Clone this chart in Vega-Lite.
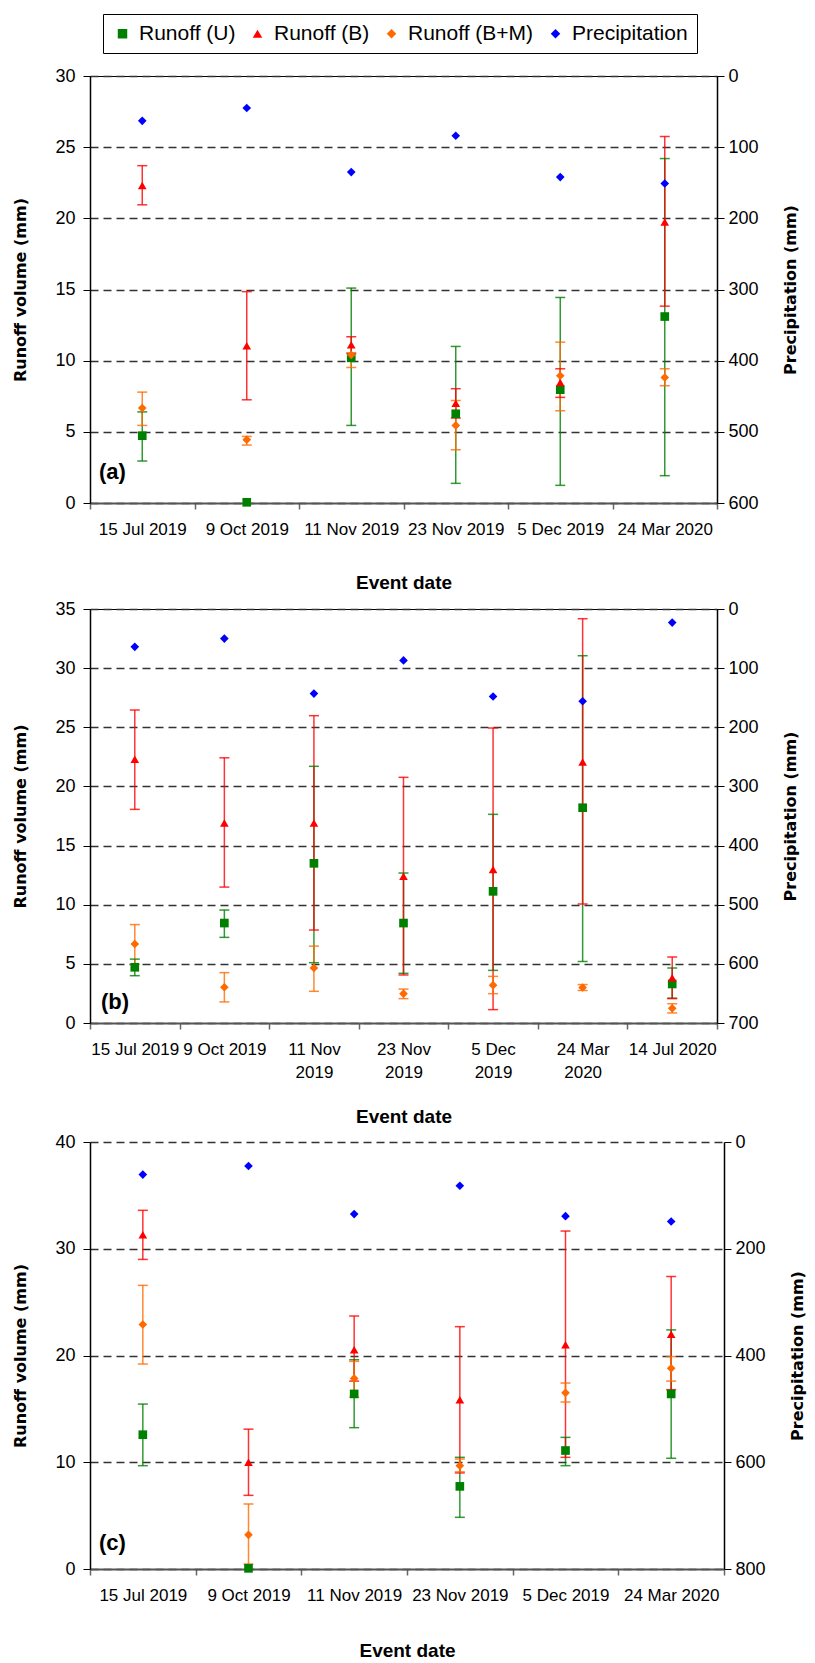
{
  "$schema": "https://vega.github.io/schema/vega-lite/v6.json",
  "background": "white",
  "padding": {"left": 12, "top": 13, "right": 4, "bottom": 2},
  "spacing": 6,
  "datasets": {
    "runoff": [
      {"p":"a","date":"15 Jul 2019","series":"Runoff (U)","v":4.73,"lo":2.95,"hi":6.4},
      {"p":"a","date":"9 Oct 2019","series":"Runoff (U)","v":0.05,"lo":null,"hi":null},
      {"p":"a","date":"11 Nov 2019","series":"Runoff (U)","v":10.2,"lo":5.45,"hi":15.1},
      {"p":"a","date":"23 Nov 2019","series":"Runoff (U)","v":6.27,"lo":1.38,"hi":11.0},
      {"p":"a","date":"5 Dec 2019","series":"Runoff (U)","v":7.96,"lo":1.24,"hi":14.44},
      {"p":"a","date":"24 Mar 2020","series":"Runoff (U)","v":13.1,"lo":1.92,"hi":24.2},
      {"p":"a","date":"15 Jul 2019","series":"Runoff (B)","v":22.3,"lo":20.95,"hi":23.7},
      {"p":"a","date":"9 Oct 2019","series":"Runoff (B)","v":11.05,"lo":7.25,"hi":14.85},
      {"p":"a","date":"11 Nov 2019","series":"Runoff (B)","v":11.12,"lo":10.53,"hi":11.68},
      {"p":"a","date":"23 Nov 2019","series":"Runoff (B)","v":7.0,"lo":5.97,"hi":8.03},
      {"p":"a","date":"5 Dec 2019","series":"Runoff (B)","v":8.47,"lo":7.42,"hi":9.43},
      {"p":"a","date":"24 Mar 2020","series":"Runoff (B)","v":19.75,"lo":13.83,"hi":25.75},
      {"p":"a","date":"15 Jul 2019","series":"Runoff (B+M)","v":6.67,"lo":5.45,"hi":7.79},
      {"p":"a","date":"9 Oct 2019","series":"Runoff (B+M)","v":4.45,"lo":4.07,"hi":4.68},
      {"p":"a","date":"11 Nov 2019","series":"Runoff (B+M)","v":10.41,"lo":9.52,"hi":10.5},
      {"p":"a","date":"23 Nov 2019","series":"Runoff (B+M)","v":5.45,"lo":3.74,"hi":7.2},
      {"p":"a","date":"5 Dec 2019","series":"Runoff (B+M)","v":8.94,"lo":6.48,"hi":11.3},
      {"p":"a","date":"24 Mar 2020","series":"Runoff (B+M)","v":8.82,"lo":8.24,"hi":9.43},

      {"p":"b","date":"15 Jul 2019","series":"Runoff (U)","v":4.71,"lo":4.0,"hi":5.4},
      {"p":"b","date":"9 Oct 2019","series":"Runoff (U)","v":8.45,"lo":7.24,"hi":9.55},
      {"p":"b","date":"11 Nov 2019","series":"Runoff (U)","v":13.5,"lo":5.1,"hi":21.7},
      {"p":"b","date":"23 Nov 2019","series":"Runoff (U)","v":8.45,"lo":4.2,"hi":12.68},
      {"p":"b","date":"5 Dec 2019","series":"Runoff (U)","v":11.13,"lo":4.45,"hi":17.64},
      {"p":"b","date":"24 Mar 2020","series":"Runoff (U)","v":18.2,"lo":5.2,"hi":31.05},
      {"p":"b","date":"14 Jul 2020","series":"Runoff (U)","v":3.3,"lo":2.1,"hi":4.65},
      {"p":"b","date":"15 Jul 2019","series":"Runoff (B)","v":22.3,"lo":18.06,"hi":26.46},
      {"p":"b","date":"9 Oct 2019","series":"Runoff (B)","v":16.9,"lo":11.49,"hi":22.42},
      {"p":"b","date":"11 Nov 2019","series":"Runoff (B)","v":16.9,"lo":7.86,"hi":25.98},
      {"p":"b","date":"23 Nov 2019","series":"Runoff (B)","v":12.4,"lo":4.06,"hi":20.77},
      {"p":"b","date":"5 Dec 2019","series":"Runoff (B)","v":12.97,"lo":1.13,"hi":24.94},
      {"p":"b","date":"24 Mar 2020","series":"Runoff (B)","v":22.07,"lo":10.06,"hi":34.18},
      {"p":"b","date":"14 Jul 2020","series":"Runoff (B)","v":3.83,"lo":2.06,"hi":5.58},
      {"p":"b","date":"15 Jul 2019","series":"Runoff (B+M)","v":6.68,"lo":4.96,"hi":8.32},
      {"p":"b","date":"9 Oct 2019","series":"Runoff (B+M)","v":3.02,"lo":1.78,"hi":4.26},
      {"p":"b","date":"11 Nov 2019","series":"Runoff (B+M)","v":4.65,"lo":2.68,"hi":6.5},
      {"p":"b","date":"23 Nov 2019","series":"Runoff (B+M)","v":2.48,"lo":2.06,"hi":2.87},
      {"p":"b","date":"5 Dec 2019","series":"Runoff (B+M)","v":3.2,"lo":2.48,"hi":3.94},
      {"p":"b","date":"24 Mar 2020","series":"Runoff (B+M)","v":3.0,"lo":2.75,"hi":3.25},
      {"p":"b","date":"14 Jul 2020","series":"Runoff (B+M)","v":1.24,"lo":0.85,"hi":1.63},

      {"p":"c","date":"15 Jul 2019","series":"Runoff (U)","v":12.58,"lo":9.68,"hi":15.45},
      {"p":"c","date":"9 Oct 2019","series":"Runoff (U)","v":0.06,"lo":null,"hi":null},
      {"p":"c","date":"11 Nov 2019","series":"Runoff (U)","v":16.4,"lo":13.24,"hi":19.6},
      {"p":"c","date":"23 Nov 2019","series":"Runoff (U)","v":7.74,"lo":4.84,"hi":10.46},
      {"p":"c","date":"5 Dec 2019","series":"Runoff (U)","v":11.1,"lo":9.68,"hi":12.33},
      {"p":"c","date":"24 Mar 2020","series":"Runoff (U)","v":16.4,"lo":10.37,"hi":22.4},
      {"p":"c","date":"15 Jul 2019","series":"Runoff (B)","v":31.3,"lo":29.0,"hi":33.6},
      {"p":"c","date":"9 Oct 2019","series":"Runoff (B)","v":9.99,"lo":6.9,"hi":13.1},
      {"p":"c","date":"11 Nov 2019","series":"Runoff (B)","v":20.55,"lo":17.6,"hi":23.7},
      {"p":"c","date":"23 Nov 2019","series":"Runoff (B)","v":15.86,"lo":9.0,"hi":22.7},
      {"p":"c","date":"5 Dec 2019","series":"Runoff (B)","v":21.0,"lo":10.46,"hi":31.66},
      {"p":"c","date":"24 Mar 2020","series":"Runoff (B)","v":22.0,"lo":16.8,"hi":27.4},
      {"p":"c","date":"15 Jul 2019","series":"Runoff (B+M)","v":22.9,"lo":19.2,"hi":26.57},
      {"p":"c","date":"9 Oct 2019","series":"Runoff (B+M)","v":3.2,"lo":0.47,"hi":6.09},
      {"p":"c","date":"11 Nov 2019","series":"Runoff (B+M)","v":17.85,"lo":16.1,"hi":19.45},
      {"p":"c","date":"23 Nov 2019","series":"Runoff (B+M)","v":9.68,"lo":9.1,"hi":10.3},
      {"p":"c","date":"5 Dec 2019","series":"Runoff (B+M)","v":16.5,"lo":15.64,"hi":17.42},
      {"p":"c","date":"24 Mar 2020","series":"Runoff (B+M)","v":18.8,"lo":17.6,"hi":19.9}
    ],
    "precip": [
      {"p":"a","date":"15 Jul 2019","series":"Precipitation","v":63},
      {"p":"a","date":"9 Oct 2019","series":"Precipitation","v":45},
      {"p":"a","date":"11 Nov 2019","series":"Precipitation","v":135},
      {"p":"a","date":"23 Nov 2019","series":"Precipitation","v":84},
      {"p":"a","date":"5 Dec 2019","series":"Precipitation","v":142},
      {"p":"a","date":"24 Mar 2020","series":"Precipitation","v":151},
      {"p":"b","date":"15 Jul 2019","series":"Precipitation","v":64},
      {"p":"b","date":"9 Oct 2019","series":"Precipitation","v":50},
      {"p":"b","date":"11 Nov 2019","series":"Precipitation","v":143},
      {"p":"b","date":"23 Nov 2019","series":"Precipitation","v":87},
      {"p":"b","date":"5 Dec 2019","series":"Precipitation","v":148},
      {"p":"b","date":"24 Mar 2020","series":"Precipitation","v":156},
      {"p":"b","date":"14 Jul 2020","series":"Precipitation","v":23},
      {"p":"c","date":"15 Jul 2019","series":"Precipitation","v":61},
      {"p":"c","date":"9 Oct 2019","series":"Precipitation","v":45},
      {"p":"c","date":"11 Nov 2019","series":"Precipitation","v":135},
      {"p":"c","date":"23 Nov 2019","series":"Precipitation","v":82},
      {"p":"c","date":"5 Dec 2019","series":"Precipitation","v":139},
      {"p":"c","date":"24 Mar 2020","series":"Precipitation","v":149}
    ],
    "tags": [
      {"p":"a","date":"15 Jul 2019","lab":"(a)","v":2.2},
      {"p":"b","date":"15 Jul 2019","lab":"(b)","v":1.8},
      {"p":"c","date":"15 Jul 2019","lab":"(c)","v":2.45}
    ]
  },
  "vconcat": [
    {
      "width": 627, "height": 427,
      "view": {"stroke": "black", "strokeWidth": 1},
      "layer": [
        {
          "encoding": {
            "x": {"field":"date","type":"nominal","scale":{"domain":["15 Jul 2019","9 Oct 2019","11 Nov 2019","23 Nov 2019","5 Dec 2019","24 Mar 2020"],"paddingInner":0,"paddingOuter":0},
              "axis":{"title":"Event date","titlePadding":36,"labelPadding":12}}
          },
          "layer": [
            {"data":{"name":"runoff"},"transform":[{"filter":"datum.p === 'a'"}],
             "mark":{"type":"rule","strokeWidth":1.5,"opacity":0.8},
             "encoding":{"y":{"field":"lo","type":"quantitative","scale":{"domain":[0,30]},"axis":{"title":"Runoff volume (mm)","values":[0,5,10,15,20,25,30]}},"y2":{"field":"hi"},
               "stroke":{"field":"series","type":"nominal","scale":{"domain":["Runoff (U)","Runoff (B)","Runoff (B+M)"],"range":["#008000","#ff0000","#ff6a00"]},"legend":null}}},
            {"data":{"name":"runoff"},"transform":[{"filter":"datum.p === 'a'"}],
             "mark":{"type":"tick","size":10,"thickness":1.5,"opacity":0.8},
             "encoding":{"y":{"field":"lo","type":"quantitative","scale":{"domain":[0,30]},"axis":{"title":"Runoff volume (mm)","values":[0,5,10,15,20,25,30]}},
               "fill":{"field":"series","type":"nominal","scale":{"domain":["Runoff (U)","Runoff (B)","Runoff (B+M)"],"range":["#008000","#ff0000","#ff6a00"]},"legend":null}}},
            {"data":{"name":"runoff"},"transform":[{"filter":"datum.p === 'a'"}],
             "mark":{"type":"tick","size":10,"thickness":1.5,"opacity":0.8},
             "encoding":{"y":{"field":"hi","type":"quantitative","scale":{"domain":[0,30]},"axis":{"title":"Runoff volume (mm)","values":[0,5,10,15,20,25,30]}},
               "fill":{"field":"series","type":"nominal","legend":null}}},
            {"data":{"name":"runoff"},"transform":[{"filter":"datum.p === 'a'"}],
             "mark":{"type":"point","filled":true,"opacity":1,"size":75},
             "encoding":{"y":{"field":"v","type":"quantitative","scale":{"domain":[0,30]},"axis":{"title":"Runoff volume (mm)","values":[0,5,10,15,20,25,30]}},
               "color":{"field":"series","type":"nominal","scale":{"domain":["Runoff (U)","Runoff (B)","Runoff (B+M)","Precipitation"],"range":["#008000","#ff0000","#ff6a00","#0000ff"]}},
               "shape":{"field":"series","type":"nominal","scale":{"domain":["Runoff (U)","Runoff (B)","Runoff (B+M)","Precipitation"],"range":["square","triangle-up","diamond","diamond"]}}}},
            {"data":{"name":"tags"},"transform":[{"filter":"datum.p === 'a'"}],
             "mark":{"type":"text","font":"Liberation Sans","fontSize":22,"fontWeight":"bold","align":"left","baseline":"middle","dx":9},
             "encoding":{"x":{"field":"date","type":"nominal","bandPosition":0},"y":{"field":"v","type":"quantitative","scale":{"domain":[0,30]},"axis":{"title":"Runoff volume (mm)","values":[0,5,10,15,20,25,30]}},"text":{"field":"lab"}}}
          ]
        },
        {"data":{"name":"precip"},"transform":[{"filter":"datum.p === 'a'"}],
         "mark":{"type":"point","filled":true,"opacity":1,"size":75},
         "encoding":{"x":{"field":"date","type":"nominal"},
           "y":{"field":"v","type":"quantitative","scale":{"domain":[0,600],"reverse":true},"axis":{"orient":"right","title":"Precipitation (mm)","values":[0,100,200,300,400,500,600],"grid":false,"labelPadding":4,"titleAngle":270,"titleBaseline":"top","titlePadding":24}},
           "color":{"field":"series","type":"nominal"},
           "shape":{"field":"series","type":"nominal"}}}
      ],
      "resolve":{"scale":{"y":"independent"}}
    },
    {
      "width": 627, "height": 414,
      "view": {"stroke": "black", "strokeWidth": 1},
      "layer": [
        {
          "encoding": {
            "x": {"field":"date","type":"nominal","scale":{"domain":["15 Jul 2019","9 Oct 2019","11 Nov 2019","23 Nov 2019","5 Dec 2019","24 Mar 2020","14 Jul 2020"],"paddingInner":0,"paddingOuter":0},
              "axis":{"title":"Event date","titlePadding":27,"labelPadding":12,"labelLineHeight":23,
                "labelExpr":"indexof(['15 Jul 2019','9 Oct 2019','14 Jul 2020'], datum.label) >= 0 ? datum.label : [substring(datum.label, 0, lastindexof(datum.label, ' ')), substring(datum.label, lastindexof(datum.label, ' ') + 1)]"}}
          },
          "layer": [
            {"data":{"name":"runoff"},"transform":[{"filter":"datum.p === 'b'"}],
             "mark":{"type":"rule","strokeWidth":1.5,"opacity":0.8},
             "encoding":{"y":{"field":"lo","type":"quantitative","scale":{"domain":[0,35]},"axis":{"title":"Runoff volume (mm)","values":[0,5,10,15,20,25,30,35]}},"y2":{"field":"hi"},
               "stroke":{"field":"series","type":"nominal","legend":null}}},
            {"data":{"name":"runoff"},"transform":[{"filter":"datum.p === 'b'"}],
             "mark":{"type":"tick","size":10,"thickness":1.5,"opacity":0.8},
             "encoding":{"y":{"field":"lo","type":"quantitative","scale":{"domain":[0,35]},"axis":{"title":"Runoff volume (mm)","values":[0,5,10,15,20,25,30,35]}},
               "fill":{"field":"series","type":"nominal","legend":null}}},
            {"data":{"name":"runoff"},"transform":[{"filter":"datum.p === 'b'"}],
             "mark":{"type":"tick","size":10,"thickness":1.5,"opacity":0.8},
             "encoding":{"y":{"field":"hi","type":"quantitative","scale":{"domain":[0,35]},"axis":{"title":"Runoff volume (mm)","values":[0,5,10,15,20,25,30,35]}},
               "fill":{"field":"series","type":"nominal","legend":null}}},
            {"data":{"name":"runoff"},"transform":[{"filter":"datum.p === 'b'"}],
             "mark":{"type":"point","filled":true,"opacity":1,"size":75},
             "encoding":{"y":{"field":"v","type":"quantitative","scale":{"domain":[0,35]},"axis":{"title":"Runoff volume (mm)","values":[0,5,10,15,20,25,30,35]}},
               "color":{"field":"series","type":"nominal"},
               "shape":{"field":"series","type":"nominal"}}},
            {"data":{"name":"tags"},"transform":[{"filter":"datum.p === 'b'"}],
             "mark":{"type":"text","font":"Liberation Sans","fontSize":22,"fontWeight":"bold","align":"left","baseline":"middle","dx":11},
             "encoding":{"x":{"field":"date","type":"nominal","bandPosition":0},"y":{"field":"v","type":"quantitative","scale":{"domain":[0,35]},"axis":{"title":"Runoff volume (mm)","values":[0,5,10,15,20,25,30,35]}},"text":{"field":"lab"}}}
          ]
        },
        {"data":{"name":"precip"},"transform":[{"filter":"datum.p === 'b'"}],
         "mark":{"type":"point","filled":true,"opacity":1,"size":75},
         "encoding":{"x":{"field":"date","type":"nominal"},
           "y":{"field":"v","type":"quantitative","scale":{"domain":[0,700],"reverse":true},"axis":{"orient":"right","title":"Precipitation (mm)","values":[0,100,200,300,400,500,600,700],"grid":false,"labelPadding":4,"titleAngle":270,"titleBaseline":"top","titlePadding":24}},
           "color":{"field":"series","type":"nominal"},
           "shape":{"field":"series","type":"nominal"}}}
      ],
      "resolve":{"scale":{"y":"independent"}}
    },
    {
      "width": 634, "height": 427,
      "layer": [
        {
          "encoding": {
            "x": {"field":"date","type":"nominal","scale":{"domain":["15 Jul 2019","9 Oct 2019","11 Nov 2019","23 Nov 2019","5 Dec 2019","24 Mar 2020"],"paddingInner":0,"paddingOuter":0},
              "axis":{"title":"Event date","titlePadding":38,"labelPadding":12}}
          },
          "layer": [
            {"data":{"name":"runoff"},"transform":[{"filter":"datum.p === 'c'"}],
             "mark":{"type":"rule","strokeWidth":1.5,"opacity":0.8},
             "encoding":{"y":{"field":"lo","type":"quantitative","scale":{"domain":[0,40]},"axis":{"title":"Runoff volume (mm)","values":[0,10,20,30,40]}},"y2":{"field":"hi"},
               "stroke":{"field":"series","type":"nominal","legend":null}}},
            {"data":{"name":"runoff"},"transform":[{"filter":"datum.p === 'c'"}],
             "mark":{"type":"tick","size":10,"thickness":1.5,"opacity":0.8},
             "encoding":{"y":{"field":"lo","type":"quantitative","scale":{"domain":[0,40]},"axis":{"title":"Runoff volume (mm)","values":[0,10,20,30,40]}},
               "fill":{"field":"series","type":"nominal","legend":null}}},
            {"data":{"name":"runoff"},"transform":[{"filter":"datum.p === 'c'"}],
             "mark":{"type":"tick","size":10,"thickness":1.5,"opacity":0.8},
             "encoding":{"y":{"field":"hi","type":"quantitative","scale":{"domain":[0,40]},"axis":{"title":"Runoff volume (mm)","values":[0,10,20,30,40]}},
               "fill":{"field":"series","type":"nominal","legend":null}}},
            {"data":{"name":"runoff"},"transform":[{"filter":"datum.p === 'c'"}],
             "mark":{"type":"point","filled":true,"opacity":1,"size":75},
             "encoding":{"y":{"field":"v","type":"quantitative","scale":{"domain":[0,40]},"axis":{"title":"Runoff volume (mm)","values":[0,10,20,30,40]}},
               "color":{"field":"series","type":"nominal"},
               "shape":{"field":"series","type":"nominal"}}},
            {"data":{"name":"tags"},"transform":[{"filter":"datum.p === 'c'"}],
             "mark":{"type":"text","font":"Liberation Sans","fontSize":22,"fontWeight":"bold","align":"left","baseline":"middle","dx":9},
             "encoding":{"x":{"field":"date","type":"nominal","bandPosition":0},"y":{"field":"v","type":"quantitative","scale":{"domain":[0,40]},"axis":{"title":"Runoff volume (mm)","values":[0,10,20,30,40]}},"text":{"field":"lab"}}}
          ]
        },
        {"data":{"name":"precip"},"transform":[{"filter":"datum.p === 'c'"}],
         "mark":{"type":"point","filled":true,"opacity":1,"size":75},
         "encoding":{"x":{"field":"date","type":"nominal"},
           "y":{"field":"v","type":"quantitative","scale":{"domain":[0,800],"reverse":true},"axis":{"orient":"right","title":"Precipitation (mm)","values":[0,200,400,600,800],"grid":false,"labelPadding":4,"titleAngle":270,"titleBaseline":"top","titlePadding":24}},
           "color":{"field":"series","type":"nominal","legend":{"orient":"none","legendX":13,"legendY":-62,"direction":"horizontal","columns":4,"title":null}},
           "shape":{"field":"series","type":"nominal","legend":{"orient":"none","legendX":13,"legendY":-62,"direction":"horizontal","columns":4,"title":null}}}}
      ],
      "resolve":{"scale":{"y":"independent"}}
    }
  ],
  "config": {
    "font": "Liberation Sans",
    "view": {"stroke": null},
    "axis": {"labelFont":"Liberation Sans","labelColor":"black","titleColor":"black","tickColor":"black","domainColor":"black"},
    "axisY": {"labelFontSize":18,"tickSize":7,"labelPadding":8,"domainWidth":1.5,"titleFont":"DejaVu Sans","titleFontSize":16,"titleFontWeight":"bold","titlePadding":26,"grid":true,"gridDash":[8,5],"gridColor":"#333","gridWidth":1.3},
    "axisX": {"labelFontSize":17,"labelAngle":0,"tickBand":"extent","tickSize":6,"tickColor":"#666","tickWidth":1.5,"domainColor":"#555","domainWidth":2,"labelOverlap":false,"labelBound":false,"labelLimit":300,"grid":false,"titleFont":"Liberation Sans","titleFontSize":19,"titleFontWeight":"bold"},
    "legend": {"labelFont":"Liberation Sans","labelFontSize":21,"labelColor":"black","symbolSize":90,"labelOffset":6,"columnPadding":11,"padding":9,"strokeColor":"black","strokeWidth":1,"fillColor":"white","symbolStrokeWidth":0}
  }
}
